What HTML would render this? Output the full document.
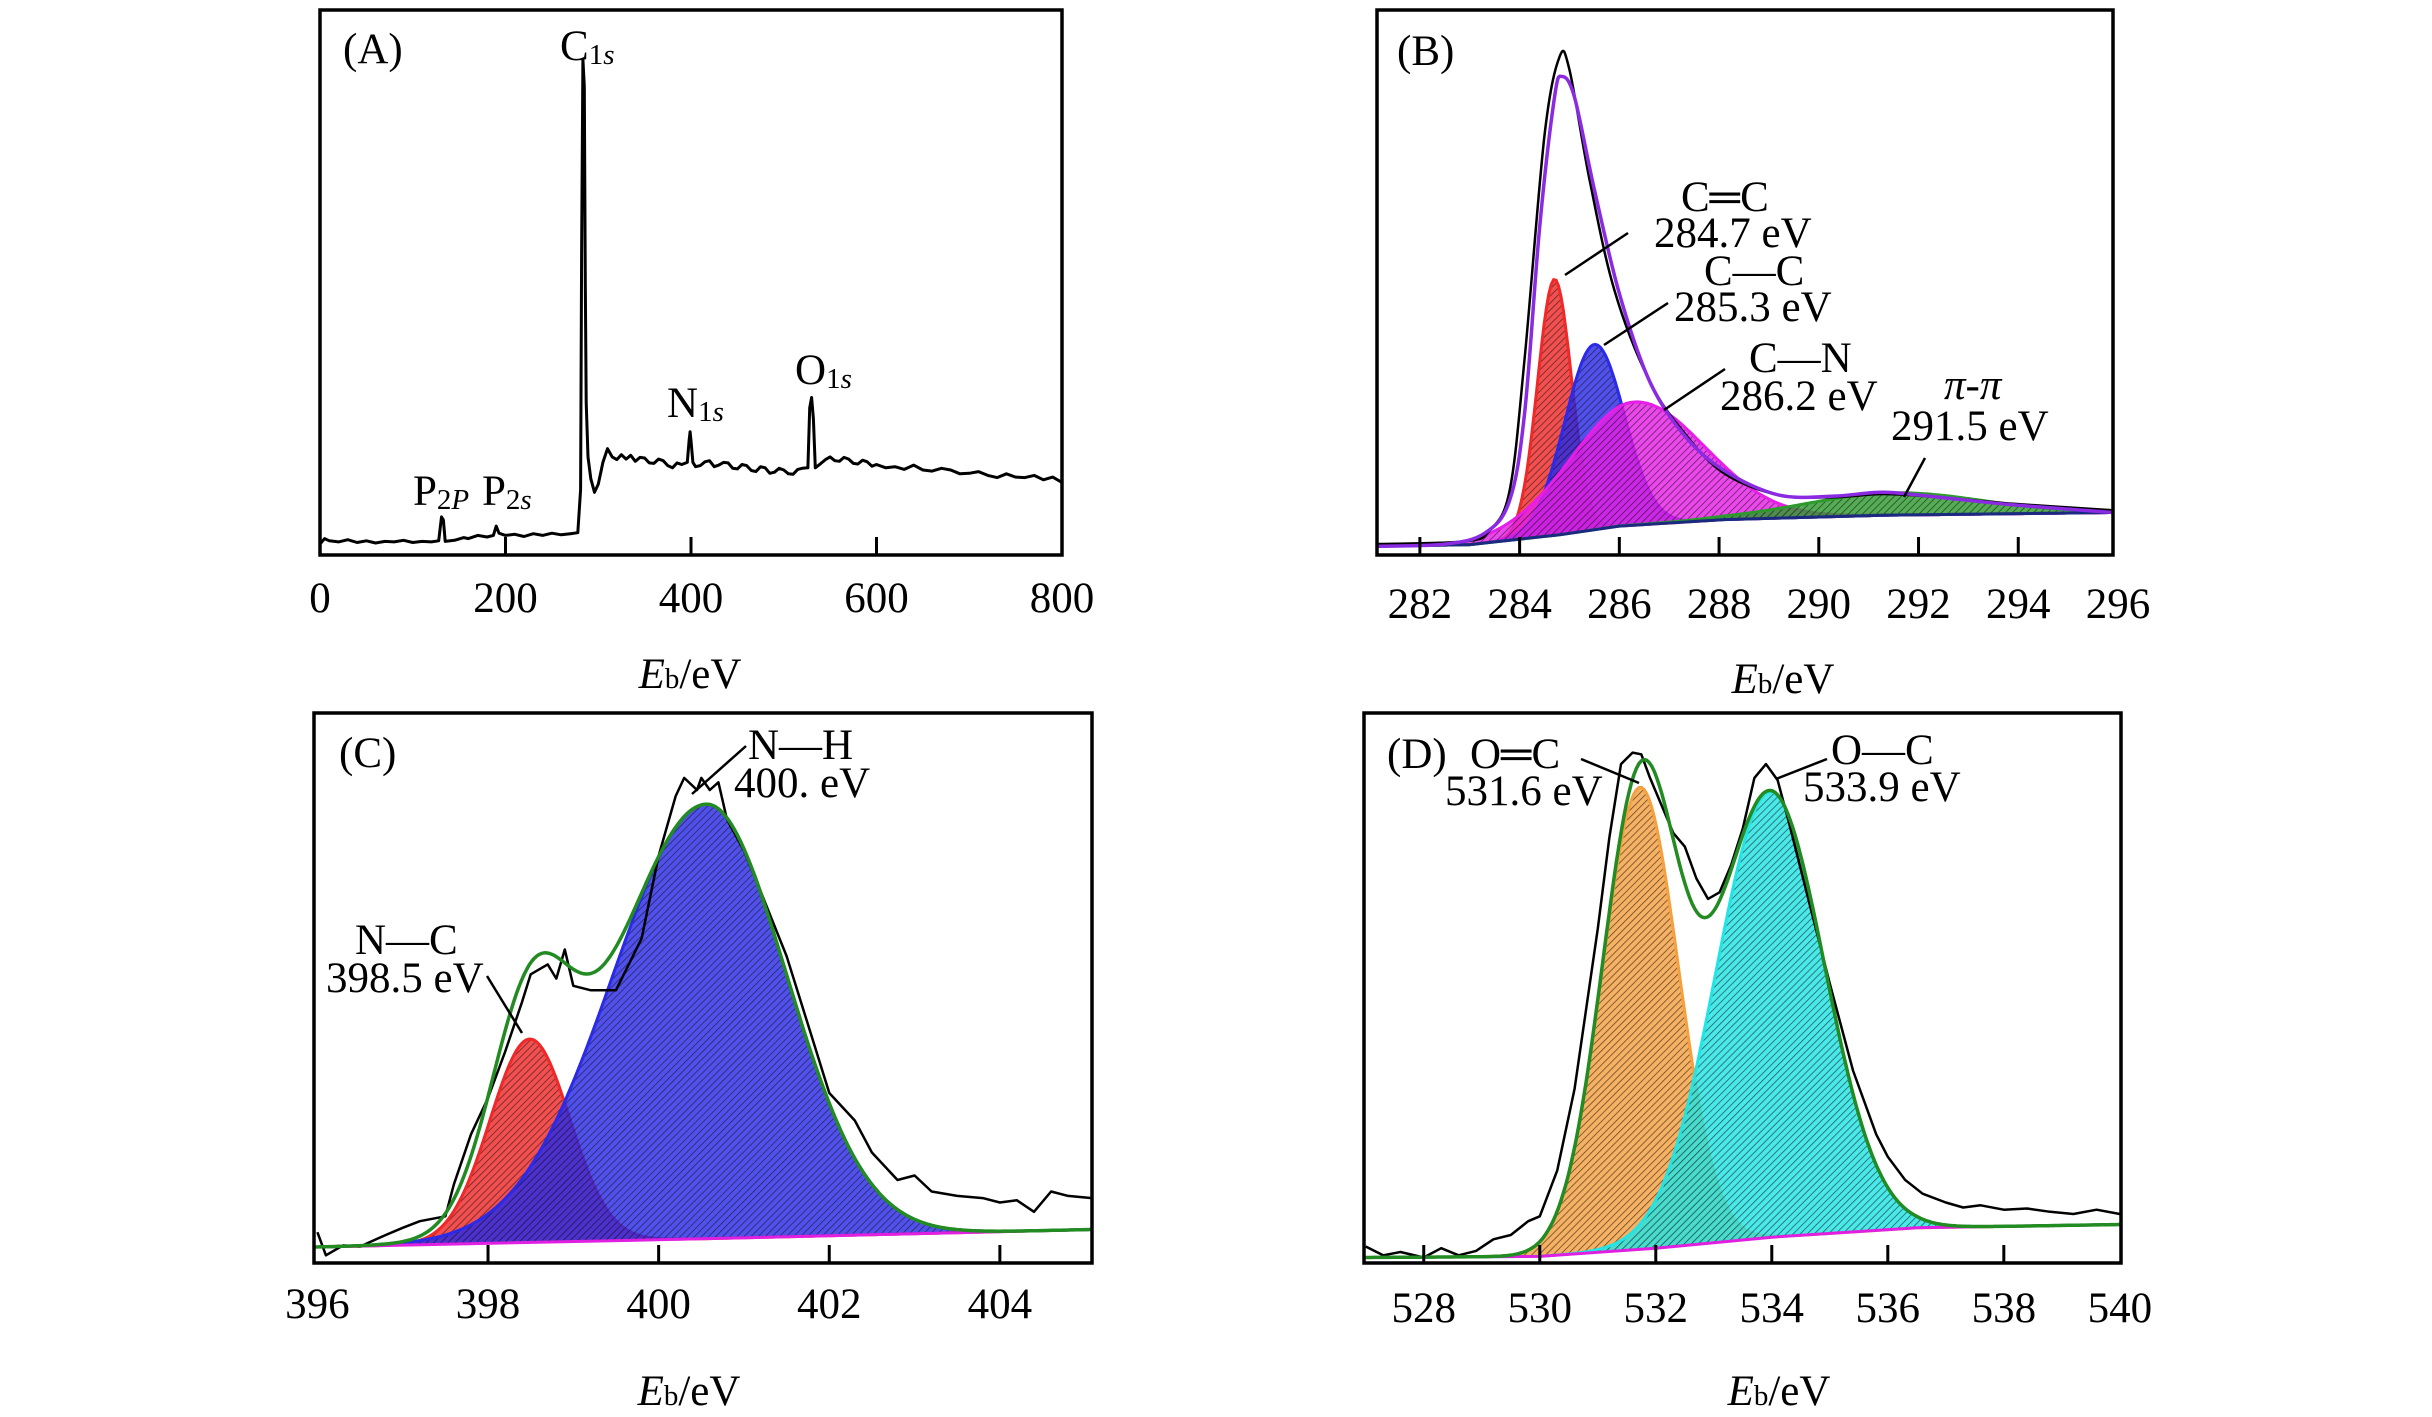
<!DOCTYPE html>
<html><head><meta charset="utf-8"><style>
html,body{margin:0;padding:0;background:#fff;}
svg{display:block;}
svg text{font-family:"Liberation Serif","Times New Roman",serif;}
.t{font-size:43px;fill:#000;font-family:"Liberation Serif",serif;}
.sub{font-size:29px;}
</style></head><body>
<svg id="fig" width="2432" height="1417" viewBox="0 0 2432 1417" xmlns="http://www.w3.org/2000/svg">
<defs>
<pattern id="hatch" width="5" height="5" patternUnits="userSpaceOnUse" patternTransform="rotate(45)">
<line x1="0" y1="0" x2="0" y2="5" stroke="#111" stroke-width="1.6" opacity="0.65"/>
</pattern>
<clipPath id="clipA"><rect x="320" y="10" width="742" height="545"/></clipPath>
<clipPath id="clipB"><rect x="1377" y="10" width="736" height="545"/></clipPath>
<clipPath id="clipC"><rect x="314" y="713" width="778" height="550"/></clipPath>
<clipPath id="clipD"><rect x="1364" y="713" width="757" height="550"/></clipPath>
</defs>
<g id="layer"></g>
</svg>
<script>
// ---------- DATA ----------
const surveyA = [[0,2.0],[5,3.0],[10,2.6],[20,2.4],[30,2.8],[40,2.3],[50,2.6],[60,2.2],[70,2.5],[80,2.4],[90,2.7],[100,2.3],[110,2.5],[120,2.4],[128,2.6],[131,7.0],[133,6.4],[135,2.5],[145,2.7],[155,3.2],[160,3.0],[170,3.6],[180,3.3],[187,3.6],[190,5.3],[193,4.0],[200,3.6],[210,3.8],[220,3.4],[230,3.9],[240,3.6],[250,4.0],[260,3.7],[270,3.9],[278,4.1],[281,12],[282,55],[283.5,91],[285,86],[286,50],[287,28],[289,18],[292,14],[296,11.5],[300,13],[305,17],[310,19.5],[315,18],[320,17.5],[325,18.4],[330,17.6],[335,18.3],[340,17.2],[345,17.9],[350,17.8],[355,16.9],[360,16.8],[365,17.6],[370,17.3],[375,16.4],[380,16.0],[385,16.9],[390,16.6],[396,17],[398,21],[399,22.6],[400,21],[402,17],[405,16.2],[410,16.4],[415,17.1],[420,17.3],[425,16.2],[430,16.5],[435,17.0],[440,16.9],[445,15.9],[450,15.8],[455,16.6],[460,16.4],[465,15.5],[470,15.3],[475,16.2],[480,16.0],[485,15.0],[490,15.2],[495,15.9],[500,15.6],[505,14.9],[510,14.8],[515,15.7],[520,15.9],[526,16],[528,27],[530,28.9],[532,25],[534,16],[540,16.8],[545,17.5],[550,18.0],[555,17.3],[560,17.2],[565,17.9],[570,17.6],[575,16.8],[580,16.7],[585,17.4],[590,17.1],[595,16.3],[600,16.6],[610,16.0],[620,16.2],[630,15.7],[640,16.5],[650,15.6],[660,15.4],[670,15.9],[680,15.6],[690,14.9],[700,15.0],[710,15.3],[720,14.6],[730,14.2],[740,14.9],[750,14.3],[760,14.2],[770,14.6],[780,13.8],[790,14.3],[800,13.3]];
const ticksA = [0,200,400,600,800];

const measB = [[281.1,2.0],[282.9,2.5],[283.4,4.5],[283.8,11.8],[284.1,36],[284.5,77],[284.8,91.4],[285.0,89],[285.4,69],[285.9,48.6],[286.6,32],[287.3,22.4],[288.1,15],[289.2,11],[290.3,10.6],[291.3,11.2],[292.4,10.6],[293.9,9.4],[295.9,8.2]];
const envB = [[281.1,1.6],[282.5,2.0],[283.3,4],[283.8,10],[284.1,26],[284.4,60],[284.7,84],[284.85,87.8],[285.1,84],[285.5,67],[286,48],[286.6,32],[287.3,22],[288.1,15.5],[289.2,11],[290.3,10.8],[291.3,11.5],[292.4,10.6],[293.9,9.2],[295.9,7.8]];
const bgB = [[281.1,1.6],[283,1.9],[284.8,3.7],[286,5.3],[288.1,6.5],[291.3,7.3],[295.9,7.8]];
const centersB = [284.7,285.5,286.3,291.5];
const ampsB = [47,34,22.6,4.1];
const fwhmLB = [0.8,1.4,3.0,4.2];
const fwhmRB = [0.8,1.4,3.3,4.2];
const ticksB = [282,284,286,288,290,292,294,296];

const measC = [[396.0,5.6],[396.1,1.4],[396.3,3.2],[396.5,3.0],[396.8,5.1],[397.0,6.4],[397.2,7.6],[397.5,8.5],[397.6,14.3],[397.8,23.4],[398.0,30],[398.2,38.4],[398.4,47.5],[398.5,52.5],[398.7,54.3],[398.8,51.7],[398.9,57],[399.0,50.4],[399.2,49.6],[399.5,49.6],[399.8,59],[400.0,74],[400.2,84.9],[400.3,88.2],[400.45,86],[400.5,88.2],[400.6,86],[400.7,87.4],[400.8,80.7],[401.0,75],[401.2,67.4],[401.5,55.8],[401.8,40.9],[402.0,30.9],[402.3,25.9],[402.5,20.1],[402.8,15.1],[403.0,15.9],[403.2,13],[403.5,12.2],[403.8,11.8],[404.0,11],[404.2,11.4],[404.4,9.3],[404.6,13],[404.8,12.2],[405.08,11.8]];
const bgC = [[396.0,2.9],[400.5,4.4],[405.08,6.1]];
const centersC = [398.49,400.56];
const ampsC = [37,79];
const fwhmLC = [1.1,2.6];
const fwhmRC = [1.1,2.2];
const ticksC = [396,398,400,402,404];

const measD = [[527.0,3],[527.3,1.4],[527.6,2.0],[528.0,1.0],[528.3,2.7],[528.6,1.4],[528.9,2.2],[529.2,4.3],[529.5,5.1],[529.8,7.6],[530.0,8.5],[530.3,16.8],[530.6,31.7],[531.0,60.8],[531.2,77.4],[531.4,90.7],[531.6,92.8],[531.75,92.5],[531.9,88.2],[532.1,83.2],[532.3,78.2],[532.5,75.7],[532.7,69.9],[532.9,66.2],[533.1,67.4],[533.3,72.4],[533.5,79],[533.7,88.2],[533.9,90.7],[534.1,87.8],[534.3,79.9],[534.6,67.4],[535.0,50.8],[535.4,35],[535.8,23.4],[536.0,19.3],[536.3,15.1],[536.6,12.6],[537.0,11],[537.3,10.1],[537.6,10.5],[538.0,9.7],[538.4,9.9],[538.8,9.3],[539.2,8.9],[539.6,9.7],[540.0,8.9]];
const bgD = [[527.0,1.0],[530.0,1.2],[532.0,2.7],[534.0,4.7],[536.5,6.4],[540.0,7.0]];
const centersD = [531.73,533.97];
const ampsD = [84,81];
const fwhmLD = [1.55,2.2];
const fwhmRD = [1.55,2.2];
const ticksD = [528,530,532,534,536,538,540];

// ---------- RENDER ----------
const NS = "http://www.w3.org/2000/svg";
const layer = document.getElementById('layer');
function mk(tag, attrs, parent){const e=document.createElementNS(NS,tag);for(const k in attrs)e.setAttribute(k,attrs[k]);(parent||layer).appendChild(e);return e;}
function lin(d0,d1,r0,r1){return v=>r0+(v-d0)/(d1-d0)*(r1-r0);}
function interp(arr,x){if(x<=arr[0][0])return arr[0][1];for(let i=1;i<arr.length;i++){if(x<=arr[i][0]){const a=arr[i-1],b=arr[i];return a[1]+(b[1]-a[1])*(x-a[0])/(b[0]-a[0]);}}return arr[arr.length-1][1];}
function gauss(x,c,a,wl,wr){const w=x<c?wl:wr;return a*Math.exp(-4*Math.LN2*(x-c)*(x-c)/(w*w));}
function pathOf(pts,X,Y){return pts.map((p,i)=>(i?'L':'M')+X(p[0]).toFixed(1)+' '+Y(p[1]).toFixed(1)).join(' ');}
function smoothPath(pts,X,Y){
  const P=pts.map(p=>[X(p[0]),Y(p[1])]);
  let d='M'+P[0][0].toFixed(1)+' '+P[0][1].toFixed(1);
  for(let i=0;i<P.length-1;i++){
    const p0=P[Math.max(0,i-1)],p1=P[i],p2=P[i+1],p3=P[Math.min(P.length-1,i+2)];
    const c1=[p1[0]+(p2[0]-p0[0])/6,p1[1]+(p2[1]-p0[1])/6];
    const c2=[p2[0]-(p3[0]-p1[0])/6,p2[1]-(p3[1]-p1[1])/6];
    d+=' C'+c1[0].toFixed(1)+' '+c1[1].toFixed(1)+' '+c2[0].toFixed(1)+' '+c2[1].toFixed(1)+' '+p2[0].toFixed(1)+' '+p2[1].toFixed(1);
  }
  return d;
}

function panel(cfg){
  const g=mk('g',{});
  
  
  const X=lin(cfg.xd[0],cfg.xd[1],cfg.box[0],cfg.box[2]);
  const Y=lin(0,100,cfg.box[3],cfg.box[1]);
  const plot=mk('g',{'clip-path':'url(#'+cfg.clip+')'},g);
  
  
  if(cfg.centers){
    const N=300, xs=[];
    for(let i=0;i<=N;i++)xs.push(cfg.xd[0]+(cfg.xd[1]-cfg.xd[0])*i/N);
    cfg.centers.forEach((c,k)=>{
      const top=xs.map(x=>[x,interp(cfg.bg,x)+gauss(x,c,cfg.amps[k],cfg.wl[k],cfg.wr[k])]);
      const bot=xs.slice().reverse().map(x=>[x,interp(cfg.bg,x)]);
      const d=pathOf(top.concat(bot),X,Y)+' Z';
      const f=mk('path',{d:d,fill:cfg.colors[k],'fill-opacity':0.82,stroke:'none'},plot);
      
      
      mk('path',{d:d,fill:'url(#hatch)',stroke:'none'},plot);
      const o=mk('path',{d:pathOf(top,X,Y),fill:'none',stroke:cfg.colors[k],'stroke-width':3},plot);
      
      
    });
    const b=mk('path',{d:pathOf(cfg.bg,X,Y),fill:'none',stroke:cfg.bgColor,'stroke-width':3},plot);
    
    
    const env=cfg.env || xs.map(x=>{let s=interp(cfg.bg,x);cfg.centers.forEach((c,k)=>s+=gauss(x,c,cfg.amps[k],cfg.wl[k],cfg.wr[k]));return [x,s];});
    const mp=cfg.smooth?smoothPath(cfg.meas,X,Y):pathOf(cfg.meas,X,Y);
    const m=mk('path',{d:mp,fill:'none',stroke:'#000','stroke-width':2.5,'stroke-linejoin':'round'},plot);
    
    
    const ep=cfg.env?smoothPath(env,X,Y):pathOf(env,X,Y);
    const e=mk('path',{d:ep,fill:'none',stroke:cfg.envColor,'stroke-width':3.5,'stroke-linejoin':'round'},plot);
    
    
  } else {
    const m=mk('path',{d:pathOf(cfg.meas,X,Y),fill:'none',stroke:'#000','stroke-width':3,'stroke-linejoin':'round'},plot);
    
    
  }
  const fr=mk('rect',{x:cfg.box[0],y:cfg.box[1],width:cfg.box[2]-cfg.box[0],height:cfg.box[3]-cfg.box[1],fill:'none',stroke:'#000','stroke-width':3.5},g);
  
  
  cfg.ticks.forEach(t=>{
    const x=X(t);
    if(t>cfg.xd[0]+0.01*(cfg.xd[1]-cfg.xd[0]) && t<cfg.xd[1]-0.01*(cfg.xd[1]-cfg.xd[0])){
      const tk=mk('line',{x1:x,x2:x,y1:cfg.box[3],y2:cfg.box[3]-18,stroke:'#000','stroke-width':3},g);
      
      
    }
    const tl=mk('text',{x:x,y:cfg.tickY,'text-anchor':'middle',class:'t'},g);
    tl.textContent=String(t);
    
    
  });
  const tt=mk('text',{x:cfg.titleX,y:cfg.titleY,'text-anchor':'middle',class:'t'},g);
  
  
  tt.innerHTML='<tspan font-style="italic">E</tspan><tspan class="sub">b</tspan>/eV';
  return g;
}

panel({name:'panel-a',clip:'clipA',box:[320,10,1062,555],xd:[0,800],ticks:ticksA,meas:surveyA,tickY:612,titleX:690,titleY:688});
panel({name:'panel-b',clip:'clipB',box:[1377,10,2113,555],xd:[281.14,295.9],ticks:ticksB,meas:measB,env:envB,smooth:true,bg:bgB,centers:centersB,amps:ampsB,wl:fwhmLB,wr:fwhmRB,colors:['#f02828','#2a2ae8','#e81ee8','#2e9a2e'],bgColor:'#1a2a80',envColor:'#8a2be2',tickY:618,titleX:1783,titleY:693});
panel({name:'panel-c',clip:'clipC',box:[314,713,1092,1263],xd:[395.96,405.08],ticks:ticksC,meas:measC,bg:bgC,centers:centersC,amps:ampsC,wl:fwhmLC,wr:fwhmRC,colors:['#f02828','#2a2ae8'],bgColor:'#e020e0',envColor:'#228b22',tickY:1318,titleX:689,titleY:1405});
panel({name:'panel-d',clip:'clipD',box:[1364,713,2121,1263],xd:[526.97,540.02],ticks:ticksD,meas:measD,bg:bgD,centers:centersD,amps:ampsD,wl:fwhmLD,wr:fwhmRD,colors:['#f5a040','#22e4e4'],bgColor:'#e020e0',envColor:'#228b22',tickY:1322,titleX:1779,titleY:1405});

const labels=[
 ['panel-label-a',343,63,'(A)'],['panel-label-b',1397,65,'(B)'],['panel-label-c',339,767,'(C)'],['panel-label-d',1387,768,'(D)'],
 ['label-284-7',1654,247,'284.7 eV'],['label-cc-double',1681,211,'C═C'],['label-cc-single',1704,285,'C—C'],['label-285-3',1674,321,'285.3 eV'],
 ['label-cn',1749,372,'C—N'],['label-286-2',1720,410,'286.2 eV'],['label-291-5',1891,440,'291.5 eV'],
 ['label-nc',355,954,'N—C'],['label-398-5',326,992,'398.5 eV'],['label-nh',748,759,'N—H'],['label-400',734,797,'400. eV'],
 ['label-oc-double',1470,768,'O═C'],['label-531-6',1445,805,'531.6 eV'],['label-oc-single',1831,764,'O—C'],['label-533-9',1803,801,'533.9 eV']
];
labels.forEach(l=>{const t=mk('text',{x:l[1],y:l[2],class:'t'});t.textContent=l[3];
 
 });
const pp=mk('text',{x:1944,y:399,class:'t','font-style':'italic'});pp.textContent='π-π';


const subs=[['label-c1s',560,60,'C','1s'],['label-n1s',667,417,'N','1s'],['label-o1s',795,384,'O','1s'],['label-p2p',413,505,'P','2P'],['label-p2s',482,505,'P','2s']];
subs.forEach(s=>{const t=mk('text',{x:s[1],y:s[2],class:'t'});
 t.innerHTML=s[3]+'<tspan class="sub" font-style="italic" dy="4">'+s[4].replace(/^(\d)/,'<tspan font-style="normal">$1</tspan>')+'</tspan>';
 
 });
const leaders=[[1565,275,1628,233],[1604,345,1668,303],[1664,410,1725,369],[1904,497,1925,458],[487,976,522,1033],[692,794,746,746],[1581,759,1639,783],[1776,779,1827,759]];
leaders.forEach(p=>{const l=mk('line',{x1:p[0],y1:p[1],x2:p[2],y2:p[3],stroke:'#000','stroke-width':2.5});
 
 });
</script>
</body></html>
